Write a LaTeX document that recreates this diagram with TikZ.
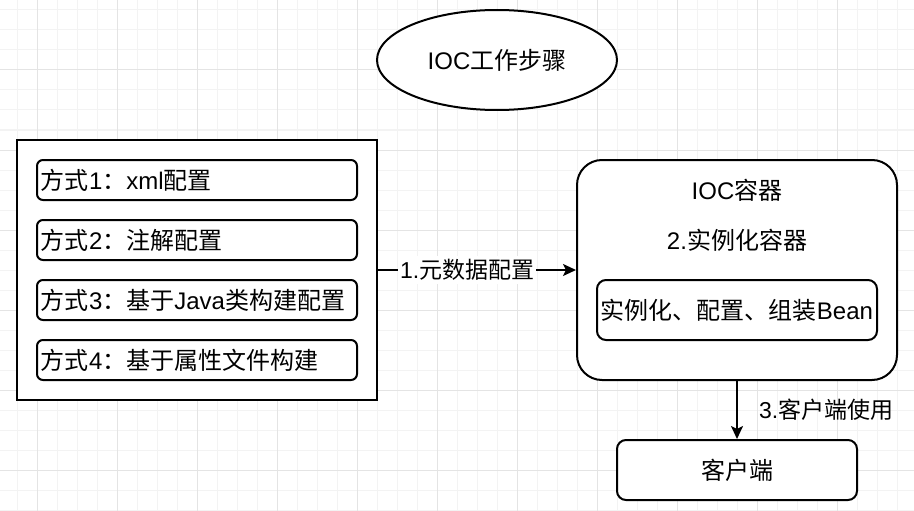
\documentclass[tikz,border=0pt]{standalone}
\usepackage{xcolor}
\usepackage{fontspec}
\setmainfont{Noto Sans CJK SC}
\newfontfamily\lat{Liberation Sans}
\usepackage{tikz}
\usetikzlibrary{arrows.meta,shapes.geometric}
\definecolor{gridminor}{HTML}{F3F3F3}
\definecolor{gridmajor}{HTML}{E4E4E4}
\newcommand\boxfont{\fontsize{24}{28}\selectfont}
\newcommand\edgefont{\fontsize{23}{27}\selectfont}

\begin{document}
\begin{tikzpicture}[x=1pt,y=-1pt,
  thick line/.style={draw,line width=2pt},
  way/.style={thick line,rounded corners=6pt,minimum height=40pt,text width=312pt,
    inner xsep=4pt,inner ysep=0pt,align=left,font=\boxfont},
  roundbox/.style={thick line,rounded corners=9pt,minimum height=60pt,inner sep=0pt,font=\boxfont},
  flow/.style={line width=2pt,-{Stealth[length=13pt,width=12pt,inset=3pt]}}]
\fill[white] (0,0) rectangle (914,511);
\useasboundingbox (0,0) rectangle (914,511);
% grid
\foreach \x in {17,37,...,897} \draw[gridminor,line width=1pt] (\x,0) -- (\x,511);
\foreach \y in {10,30,...,510} \draw[gridminor,line width=1pt] (0,\y) -- (914,\y);
\foreach \x in {37,117,...,837} \draw[gridmajor,line width=1pt] (\x,0) -- (\x,511);
\foreach \y in {70,150,...,470} \draw[gridmajor,line width=1pt] (0,\y) -- (914,\y);

\node[ellipse,thick line,fill=white,minimum width=240pt,minimum height=100pt,inner sep=0pt,font=\boxfont]
  (title) at (497,60) {{\lat IOC}工作步骤};

% configuration ways
\node[thick line,fill=white,minimum width=360pt,minimum height=260pt] (ways) at (197,270) {};
\node[way] (way1) at (197,180) {方式{\lat 1}：{\lat xml}配置};
\node[way] (way2) at (197,240) {方式{\lat 2}：注解配置};
\node[way] (way3) at (197,300) {方式{\lat 3}：基于{\lat Java}类构建配置};
\node[way] (way4) at (197,360) {方式{\lat 4}：基于属性文件构建};

% container
\node[thick line,fill=white,rounded corners=25pt,minimum width=320pt,minimum height=220pt] (ioc) at (737,270) {};
\node[font=\boxfont] (ioctitle) at (737,190) {{\lat IOC}容器};
\node[font=\boxfont] (iocstep) at (737,240) {{\lat 2.}实例化容器};
\node[roundbox,minimum width=280pt] (bean) at (737,310) {实例化、配置、组装{\lat Bean}};

\node[roundbox,fill=white,minimum width=240pt] (client) at (737,470) {客户端};

\draw[flow] (ways) -- node[pos=0.45,fill=white,inner xsep=2pt,font=\edgefont] {{\lat 1.}元数据配置} (ioc);
\draw[flow] (ioc) -- node[anchor=west,inner sep=0pt,xshift=21pt,font=\edgefont] {{\lat 3.}客户端使用} (client);
\end{tikzpicture}
\end{document}
